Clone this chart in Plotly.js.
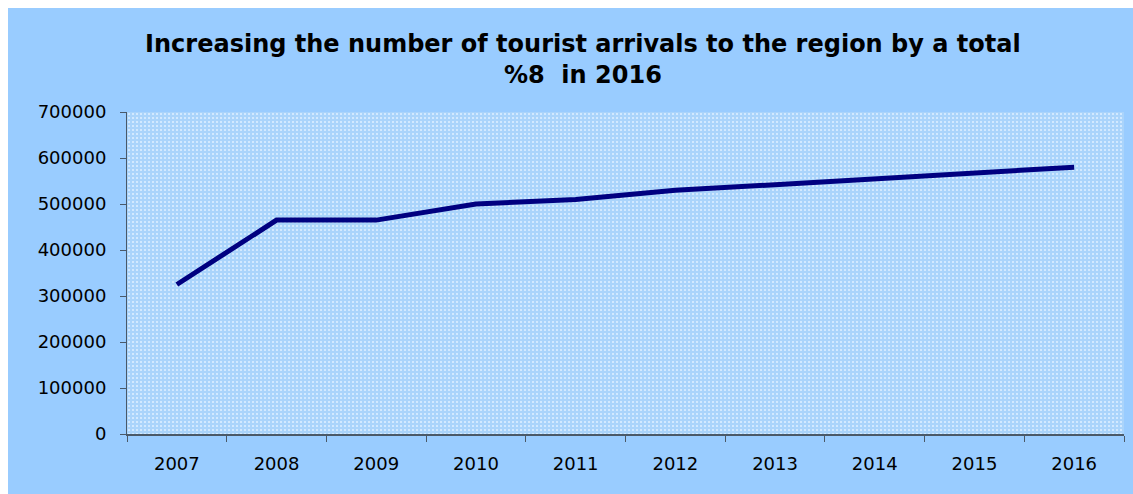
<!DOCTYPE html>
<html>
<head>
<meta charset="utf-8">
<script src="https://cdn.plot.ly/plotly-3.0.1.min.js"></script>
<style>
  html, body { margin: 0; padding: 0; background: #ffffff; }
  #chart { position: absolute; left: 8px; top: 8px; width: 1125px; height: 486px; }
</style>
</head>
<body>
<div id="chart"></div>
<script>
const years = ['2007', '2008', '2009', '2010', '2011', '2012', '2013', '2014', '2015', '2016'];
const arrivals = [325000, 465000, 465000, 500000, 510000, 530000, 542000, 555000, 567000, 580000];
const yTicks = [0, 100000, 200000, 300000, 400000, 500000, 600000, 700000];
const titleText = 'Increasing the number of tourist arrivals to the region by a total<br>%8  in 2016';

// plot-area size in pixels (from margins below)
const M = { l: 119, r: 9, t: 104, b: 60 };
const W = 1125, H = 486;
const pw = W - M.l - M.r, ph = H - M.t - M.b;

// dotted fill texture for the plot area
function makePattern(w, h) {
  const c = document.createElement('canvas');
  c.width = w; c.height = h;
  const ctx = c.getContext('2d');
  ctx.fillStyle = '#aad4fb';
  ctx.fillRect(0, 0, w, h);
  ctx.fillStyle = '#d2e9ff';
  for (let y = 1; y < h; y += 4) {
    for (let x = 1; x < w; x += 4) {
      ctx.fillRect(x, y, 2, 2);
    }
  }
  return c.toDataURL('image/png');
}

const trace = {
  x: years,
  y: arrivals,
  type: 'scatter',
  mode: 'lines',
  line: { color: '#000080', width: 5 },
  hoverinfo: 'x+y'
};

const tickFont = { family: 'DejaVu Sans, sans-serif', size: 18, color: '#000000' };

const layout = {
  width: W,
  height: H,
  paper_bgcolor: '#99ccff',
  plot_bgcolor: '#b5dafb',
  margin: M,
  showlegend: false,
  title: {
    text: titleText,
    font: { family: 'DejaVu Sans, sans-serif', size: 24, color: '#000000', weight: 'bold' },
    x: 0.511,
    xanchor: 'center',
    y: 0.91,
    yanchor: 'top'
  },
  images: [{
    source: makePattern(pw, ph),
    xref: 'paper', yref: 'paper',
    x: 0, y: 1, sizex: 1, sizey: 1,
    xanchor: 'left', yanchor: 'top',
    sizing: 'stretch',
    layer: 'below'
  }],
  xaxis: {
    type: 'category',
    range: [-0.5, 9.5],
    tickson: 'boundaries',
    ticks: 'outside',
    ticklen: 6,
    tickcolor: '#4a5968',
    showline: true,
    linecolor: '#4a5968',
    linewidth: 2,
    showgrid: false,
    zeroline: false,
    tickfont: tickFont,
    ticklabelstandoff: 12
  },
  yaxis: {
    range: [0, 700000],
    tickvals: yTicks,
    ticktext: yTicks.map(v => String(v)),
    ticks: 'outside',
    ticklen: 6,
    tickcolor: '#4a5968',
    showline: true,
    linecolor: '#4a5968',
    linewidth: 1,
    showgrid: false,
    zeroline: false,
    tickfont: tickFont,
    ticklabelstandoff: 10
  }
};

Plotly.newPlot('chart', [trace], layout, { displayModeBar: false, staticPlot: true });
</script>
</body>
</html>
